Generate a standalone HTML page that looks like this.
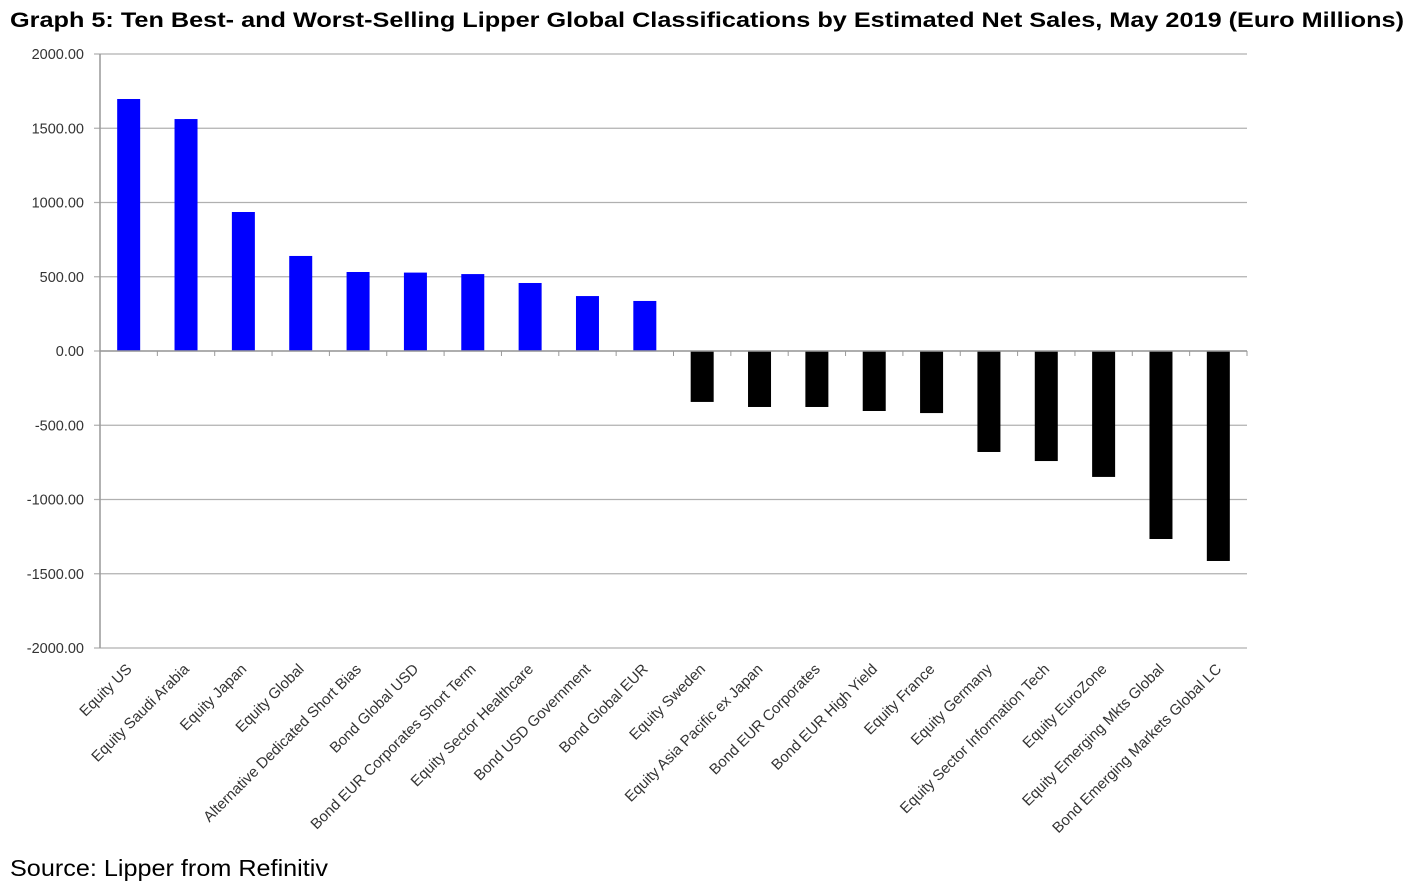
<!DOCTYPE html>
<html><head><meta charset="utf-8"><style>
body{margin:0;background:#fff;width:1428px;height:892px;overflow:hidden;font-family:"Liberation Sans",sans-serif}
svg{position:absolute;left:0;top:0}
</style></head><body>
<svg id="chart" width="1428" height="892">
<text x="10" y="27" font-size="21.5" font-weight="bold" textLength="1394" lengthAdjust="spacingAndGlyphs">Graph 5: Ten Best- and Worst-Selling Lipper Global Classifications by Estimated Net Sales, May 2019 (Euro Millions)</text>
<text x="10" y="876" font-size="23" textLength="318" lengthAdjust="spacingAndGlyphs">Source: Lipper from Refinitiv</text>
</svg>
<script>
const categories=["Equity US","Equity Saudi Arabia","Equity Japan","Equity Global","Alternative Dedicated Short Bias","Bond Global USD","Bond EUR Corporates Short Term","Equity Sector Healthcare","Bond USD Government","Bond Global EUR","Equity Sweden","Equity Asia Pacific ex Japan","Bond EUR Corporates","Bond EUR High Yield","Equity France","Equity Germany","Equity Sector Information Tech","Equity EuroZone","Equity Emerging Mkts Global","Bond Emerging Markets Global LC"];
const values=[1697,1562,936,640,532,528,518,458,370,337,-343,-377,-377,-404,-418,-680,-741,-848,-1266,-1414];
const ticks=[2000,1500,1000,500,0,-500,-1000,-1500,-2000];
const NS="http://www.w3.org/2000/svg";
const svg=document.getElementById('chart');
const X0=100,X1=1247,Y0=54,Y1=648,MIN=-2000,MAX=2000;
const y=v=>Y0+(MAX-v)/(MAX-MIN)*(Y1-Y0);
const bw=(X1-X0)/categories.length;
const xc=i=>X0+bw*(i+0.5);
function mk(t,a){const e=document.createElementNS(NS,t);for(const k in a)e.setAttribute(k,a[k]);svg.appendChild(e);return e;}
ticks.forEach(t=>{
 const g=mk('line',{x1:X0-6,x2:X1,y1:y(t),y2:y(t),stroke:'#b0b0b0','stroke-width':1.3});
 
 
 const l=mk('text',{x:X0-16,y:y(t)+5,'text-anchor':'end','font-size':14.5,fill:'#333'});
 l.textContent=t.toFixed(2);
 
 
});
const ax=mk('line',{x1:X0,x2:X0,y1:Y0,y2:Y1,stroke:'#999','stroke-width':1.5});


values.forEach((v,i)=>{
 const w=23,top=Math.min(y(v),y(0)),h=Math.abs(y(v)-y(0));
 const r=mk('rect',{x:xc(i)-w/2,y:top,width:w,height:h,fill:v>=0?'#0000ff':'#000'});
 
 
});
const za=mk('line',{x1:X0,x2:X1,y1:y(0),y2:y(0),stroke:'#999','stroke-width':1.5});


categories.forEach((c,i)=>{
 const tx=X0+bw*(i+1);
 const tk=mk('line',{x1:tx,x2:tx,y1:y(0),y2:y(0)+5,stroke:'#999','stroke-width':1});
 
 
 const x=xc(i)+4,yy=670;
 const t=mk('text',{x:x,y:yy,'text-anchor':'end','font-size':15,fill:'#333',transform:`rotate(-45 ${x} ${yy})`});
 t.textContent=c;
 
 
});
</script>
</body></html>
